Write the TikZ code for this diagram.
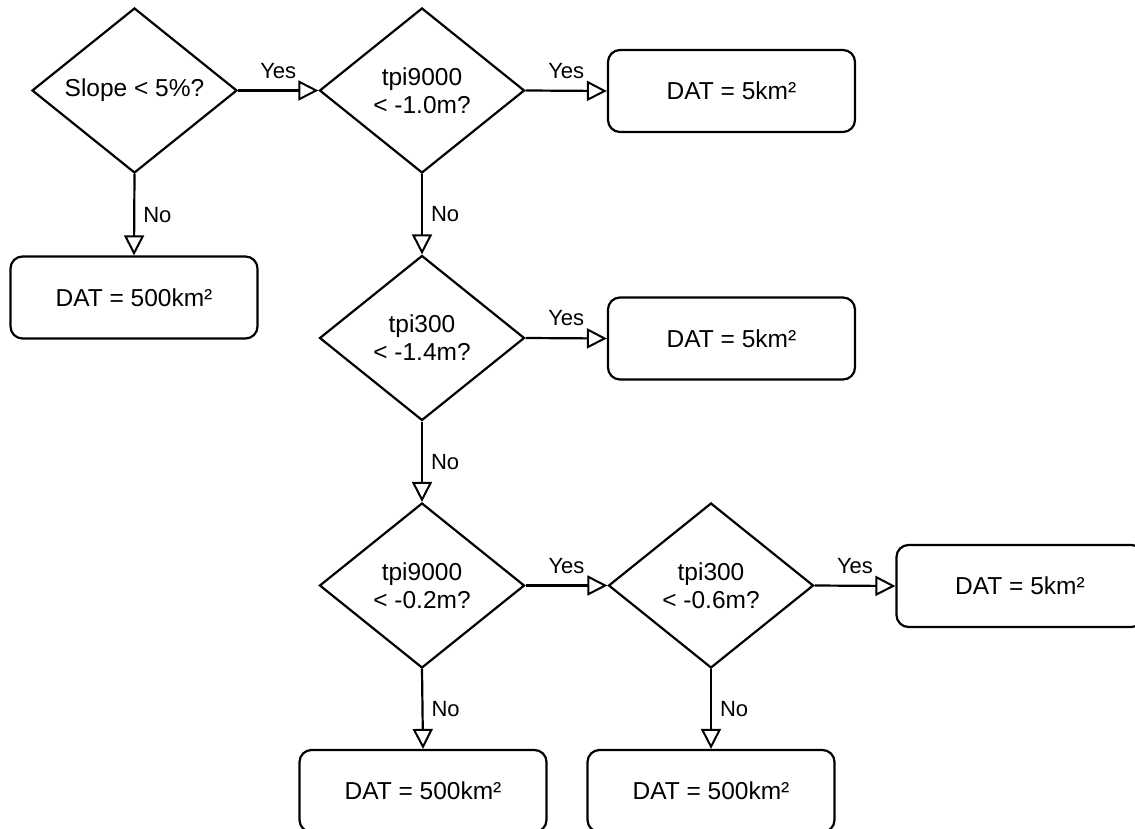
\documentclass[tikz,border=0pt]{standalone}
\usepackage{fontspec}
\setmainfont{Liberation Sans}
\usetikzlibrary{shapes.geometric,arrows.meta}
\tikzset{
  dec/.style={diamond, draw, line width=2.2pt, minimum width=205pt, minimum height=165pt,
    aspect=1.24, inner sep=0pt, align=center, font=\fontsize{24.5}{28}\selectfont},
  outbox/.style={rectangle, draw, line width=2.2pt, rounded corners=12pt,
    minimum width=247pt, minimum height=82pt, inner sep=0pt,
    font=\fontsize{24.5}{28}\selectfont},
  flow/.style={draw, line width=2.2pt, -{Triangle[open, length=20pt, width=20pt, line width=2pt]}},
  yeslbl/.style={midway, above=11pt, inner sep=0pt, font=\fontsize{22}{25}\selectfont},
  nolbl/.style={midway, right=8pt, inner sep=0pt, font=\fontsize{22}{25}\selectfont}
}
\begin{document}
\begin{tikzpicture}[x=1pt, y=-1pt]
\path[use as bounding box, fill=white] (0,0) rectangle (1135,829);
\clip (0,0) rectangle (1135,829);
\node[dec] (d1) at (134.5,90.5) {Slope < 5\%?};
\node[dec] (d2) at (422,90.5) {tpi9000\\< -1.0m?};
\node[outbox] (r1) at (731.5,91) {DAT = 5km²};
\node[outbox] (r2) at (134,297.5) {DAT = 500km²};
\node[dec] (d3) at (422,338) {tpi300\\< -1.4m?};
\node[outbox] (r3) at (731.5,338.5) {DAT = 5km²};
\node[dec] (d4) at (422,585.5) {tpi9000\\< -0.2m?};
\node[dec] (d5) at (711,585.5) {tpi300\\< -0.6m?};
\node[outbox] (r4) at (1020,586) {DAT = 5km²};
\node[outbox] (r5) at (423,791) {DAT = 500km²};
\node[outbox] (r6) at (711,791) {DAT = 500km²};
\draw[flow] (d1.east) -- node[yeslbl] {Yes} (d2.west);
\draw[flow] (d2.east) -- node[yeslbl] {Yes} (r1.west);
\draw[flow] (d1.south) -- node[nolbl] {No} (r2.north);
\draw[flow] (d2.south) -- node[nolbl] {No} (d3.north);
\draw[flow] (d3.east) -- node[yeslbl] {Yes} (r3.west);
\draw[flow] (d3.south) -- node[nolbl] {No} (d4.north);
\draw[flow] (d4.east) -- node[yeslbl] {Yes} (d5.west);
\draw[flow] (d5.east) -- node[yeslbl] {Yes} (r4.west);
\draw[flow] (d4.south) -- node[nolbl] {No} (r5.north);
\draw[flow] (d5.south) -- node[nolbl] {No} (r6.north);
\end{tikzpicture}
\end{document}
